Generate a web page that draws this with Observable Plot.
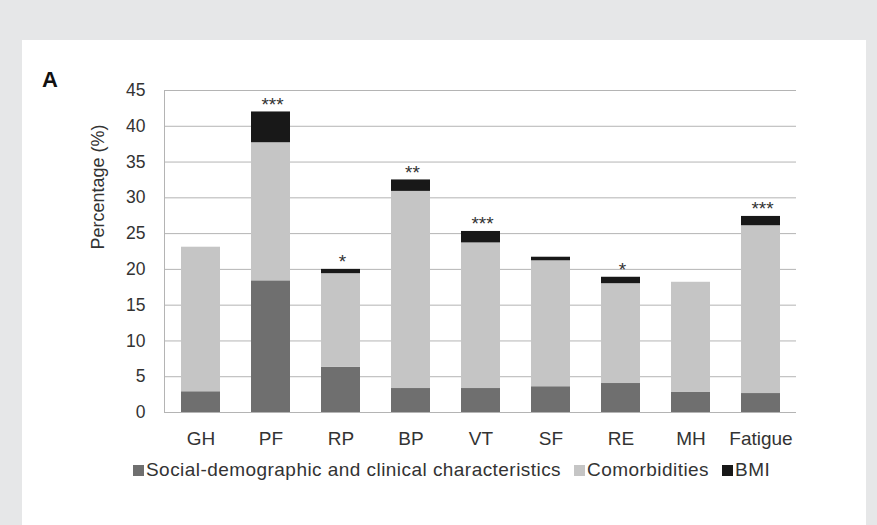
<!DOCTYPE html>
<html>
<head>
<meta charset="utf-8">
<script src="https://cdn.jsdelivr.net/npm/d3@7"></script>
<script src="https://cdn.jsdelivr.net/npm/@observablehq/plot@0.6"></script>
<style>
  body { margin: 0; width: 877px; height: 525px; background: #e6e7e8; font-family: "Liberation Sans", Arial, sans-serif; overflow: hidden; }
  #panel { position: absolute; left: 22px; top: 40px; width: 844px; height: 485px; background: #fff; }
  #label { position: absolute; left: 20px; top: 29px; font-size: 22px; line-height: 1; font-weight: bold; color: #111; }
  #chart { position: absolute; left: 0; top: 0; }
  #legend { position: absolute; left: 111px; top: 420px; font-size: 19px; line-height: 1; letter-spacing: 0.45px; color: #333; white-space: nowrap; }
  .sw { display: inline-block; width: 11px; height: 11px; margin-right: 2px; vertical-align: 0px; }
  .item { margin-right: 13px; }
</style>
</head>
<body>
<div id="panel">
  <div id="label">A</div>
  <div id="chart"></div>
  <div id="legend"></div>
</div>
<script>
const categories = ["GH", "PF", "RP", "BP", "VT", "SF", "RE", "MH", "Fatigue"];
const seriesNames = ["Social-demographic and clinical characteristics", "Comorbidities", "BMI"];
const socialValues = [2.9, 18.4, 6.3, 3.35, 3.35, 3.6, 4.05, 2.8, 2.65];
const comorbidityValues = [20.2, 19.3, 13.1, 27.55, 20.35, 17.6, 13.95, 15.4, 23.45];
const bmiValues = [0, 4.3, 0.6, 1.6, 1.6, 0.5, 0.9, 0, 1.3];
const significance = ["", "***", "*", "**", "***", "", "*", "", "***"];
const colors = ["#6f6f6f", "#c5c5c5", "#181818"];
const yTicks = [0, 5, 10, 15, 20, 25, 30, 35, 40, 45];

const seriesValues = [socialValues, comorbidityValues, bmiValues];
const data = [];
categories.forEach((c, i) => {
  seriesNames.forEach((s, j) => data.push({category: c, series: s, value: seriesValues[j][i]}));
});
const totals = categories.map((c, i) => ({category: c, total: socialValues[i] + comorbidityValues[i] + bmiValues[i], label: significance[i]}));

const chart = Plot.plot({
  width: 844,
  height: 420,
  marginLeft: 142,
  marginRight: 70,
  marginTop: 50,
  marginBottom: 48,
  style: {fontFamily: "Liberation Sans, Arial, sans-serif", fontSize: "17px", color: "#333", background: "transparent"},
  x: {domain: categories, paddingInner: 0.45, paddingOuter: 0.22, label: null},
  y: {domain: [0, 45], ticks: yTicks, label: null},
  color: {domain: seriesNames, range: colors},
  marks: [
    Plot.ruleY(yTicks, {stroke: "#b4b4b4", strokeWidth: 1}),
    Plot.frame({anchor: "left", stroke: "#b4b4b4"}),
    Plot.barY(data, {x: "category", y: "value", fill: "series", order: seriesNames}),
    Plot.text(totals, {x: "category", y: "total", text: "label", lineAnchor: "bottom", dy: -1, dx: 1.5, fontSize: 19, fill: "#333", style: "letter-spacing:3px"}),
    Plot.axisY({ticks: yTicks, tickSize: 0, tickPadding: 19, fontSize: 17.5, fill: "#333", label: null}),
    Plot.axisX({tickSize: 0, tickPadding: 19, fontSize: 19, fill: "#333", label: null, style: "letter-spacing:0.5px"}),
    Plot.text(["Percentage (%)"], {frameAnchor: "left", dx: -66, dy: -2, rotate: -90, fontSize: 18, fill: "#333"})
  ]
});
document.getElementById("chart").appendChild(chart);

const legend = document.getElementById("legend");
seriesNames.forEach((s, j) => {
  const span = document.createElement("span");
  span.className = "item";
  span.innerHTML = `<span class="sw" style="background:${colors[j]}"></span>${s}`;
  legend.appendChild(span);
});
</script>
</body>
</html>
